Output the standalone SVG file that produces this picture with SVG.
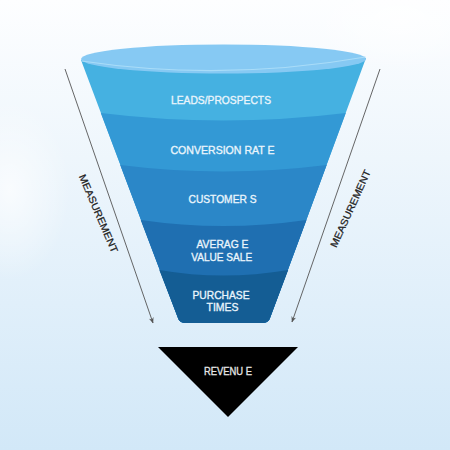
<svg xmlns="http://www.w3.org/2000/svg" width="450" height="450" viewBox="0 0 450 450">
<defs>
<linearGradient id="bg" x1="0" y1="0" x2="0" y2="1">
<stop offset="0" stop-color="#fdfeff"/>
<stop offset="0.35" stop-color="#eef6fc"/>
<stop offset="1" stop-color="#d2e8f8"/>
</linearGradient>
<radialGradient id="blob" cx="0.5" cy="0.5" r="0.5">
<stop offset="0" stop-color="#ffffff" stop-opacity="0.7"/>
<stop offset="1" stop-color="#ffffff" stop-opacity="0"/>
</radialGradient>
<marker id="ah" viewBox="0 0 10 10" refX="9" refY="5" markerWidth="6" markerHeight="6" orient="auto" markerUnits="userSpaceOnUse">
<path d="M0,1 L10,5 L0,9 L3,5 Z" fill="#555"/>
</marker>
</defs>
<style>
.lbl{font-family:"Liberation Sans",Arial,sans-serif;font-size:11.5px;fill:#eaf5fc;stroke:#eaf5fc;stroke-width:0.35;text-anchor:middle}
.meas{font-family:"Liberation Sans",Arial,sans-serif;font-size:10px;fill:#222;stroke:#222;stroke-width:0.25;text-anchor:middle}
.conn{stroke:#555;stroke-width:0.9;fill:none}
</style>
<rect width="450" height="450" fill="url(#bg)"/>
<ellipse cx="10" cy="190" rx="60" ry="90" fill="url(#blob)"/>
<ellipse cx="400" cy="20" rx="90" ry="50" fill="url(#blob)"/>

<g id="connectors">
<line class="conn" x1="65" y1="69" x2="153" y2="323" marker-end="url(#ah)"/>
<line class="conn" x1="380" y1="69" x2="292" y2="322" marker-end="url(#ah)"/>
</g>

<g id="funnel">
<g id="leads">
<path d="M81,60 L178,318 Q179,322 184,323 L264,323 Q269,322 270,318 L366,58 Z" fill="#45b1e1"/>
<ellipse cx="223.5" cy="59" rx="142.5" ry="14.5" fill="#86c9f3"/>
<path d="M81.5,61 Q223,82 365.5,57" fill="none" stroke="#a9dcf8" stroke-width="1.2"/>
<text class="lbl" x="221" y="104" textLength="100" lengthAdjust="spacingAndGlyphs">LEADS/PROSPECTS</text>
</g>
<g id="conversion">
<path d="M100.8,113 Q223,128 345.8,113 L270,318 Q269,322 264,323 L184,323 Q179,322 178,318 Z" fill="#3399d5"/>
<text class="lbl" x="222.5" y="153.5" textLength="104" lengthAdjust="spacingAndGlyphs">CONVERSION RAT E</text>
</g>
<g id="customers">
<path d="M120.2,165 Q223,178 326.7,165 L270,318 Q269,322 264,323 L184,323 Q179,322 178,318 Z" fill="#2b87c8"/>
<text class="lbl" x="222.5" y="202.5" textLength="68" lengthAdjust="spacingAndGlyphs">CUSTOMER S</text>
</g>
<g id="average">
<path d="M140.7,220 Q223,232 306.5,220 L270,318 Q269,322 264,323 L184,323 Q179,322 178,318 Z" fill="#1f6fb1"/>
<text class="lbl" x="222.5" y="248" textLength="52" lengthAdjust="spacingAndGlyphs">AVERAG E</text>
<text class="lbl" x="221.7" y="261" textLength="61" lengthAdjust="spacingAndGlyphs">VALUE SALE</text>
</g>
<g id="purchase">
<path d="M159.3,270 Q223,281 288.2,270 L270,318 Q269,322 264,323 L184,323 Q179,322 178,318 Z" fill="#145d94"/>
<text class="lbl" x="221" y="298.5" textLength="57" lengthAdjust="spacingAndGlyphs">PURCHASE</text>
<text class="lbl" x="222.5" y="311" textLength="32" lengthAdjust="spacingAndGlyphs">TIMES</text>
</g>
</g>

<g id="revenue">
<path d="M158,347 L298,347 L228,417 Z" fill="#000"/>
<text class="lbl" x="228" y="374.5" textLength="48" lengthAdjust="spacingAndGlyphs" style="fill:#e6e6e6;stroke:#e6e6e6">REVENU E</text>
</g>

<g id="measurement-left">
<text class="meas" transform="translate(98.5,213.5) rotate(66.8)" y="3.5" textLength="84" lengthAdjust="spacingAndGlyphs">MEASUREMENT</text>
</g>
<g id="measurement-right">
<text class="meas" transform="translate(350.5,208.5) rotate(-65.6)" y="3.5" textLength="84" lengthAdjust="spacingAndGlyphs">MEASUREMENT</text>
</g>
</svg>
